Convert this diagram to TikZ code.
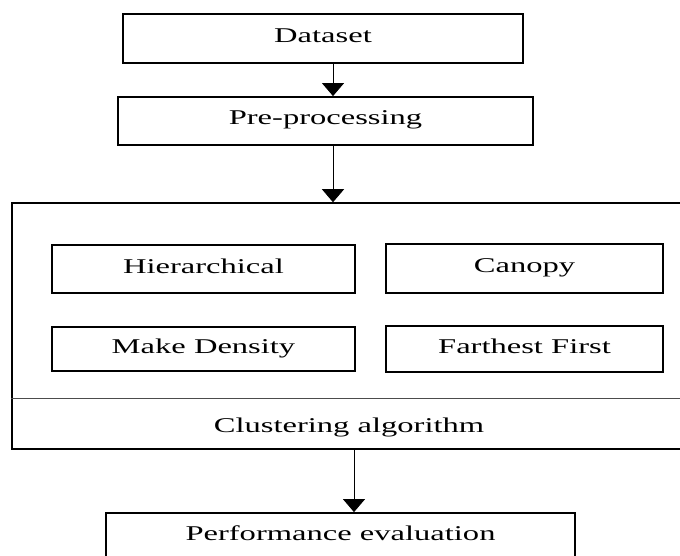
\documentclass[tikz,border=0pt]{standalone}
\usepackage{fontspec}
\setmainfont{Liberation Serif}
\usepackage{graphicx}
\usetikzlibrary{arrows.meta}

\newcommand{\wtxt}[1]{\scalebox{1.55}[1]{#1}}
\tikzset{
  blk/.style={draw, line width=1.8pt, inner sep=0pt, text height=14pt, text depth=6pt,
    font=\fontsize{21}{25}\selectfont},
  lbl/.style={inner sep=0pt, font=\fontsize{21}{25}\selectfont},
  flow/.style={-{Triangle[width=22pt,length=13pt]}, line width=0.9pt},
  sep/.style={line width=1pt, black!70},
}

\begin{document}
\begin{tikzpicture}[x=1pt,y=-1pt]
    \useasboundingbox (0,0) rectangle (680,556);
    \clip (0,0) rectangle (680,556);

    \node[blk, minimum width=400pt, minimum height=49pt] at (323,38.5) (DS) {\wtxt{Dataset}};
    \node[blk, minimum width=415pt, minimum height=48pt] at (325.5,121) (PP) {\wtxt{Pre-processing}};
    \node[draw, line width=1.5pt, minimum width=688pt, minimum height=246pt] at (356,326) (CL) {};
    \node[blk, minimum width=303pt, minimum height=48pt] at (203.5,269) (HC) {\wtxt{Hierarchical}};
    \node[blk, minimum width=277pt, minimum height=49pt] at (524.5,268.5) (CN) {\wtxt{Canopy}};
    \node[blk, minimum width=303pt, minimum height=44pt] at (203.5,349) (MD) {\wtxt{Make Density}};
    \node[blk, minimum width=277pt, minimum height=46pt] at (524.5,349) (FF) {\wtxt{Farthest First}};
    \node[lbl, anchor=base] at (349,432) (CA) {\wtxt{Clustering algorithm}};
    \node[blk, minimum width=469pt, minimum height=46pt] at (340.5,536) (PE) {\wtxt{Performance evaluation}};

    \coordinate (div) at (0,398);
    \coordinate (up) at (333,0);
    \coordinate (low) at (354,0);
    \draw[sep] (CL.west |- div) -- (CL.east |- div);
    \draw[flow] (DS.south -| up) -- (PP.north -| up);
    \draw[flow] (PP.south -| up) -- (CL.north -| up);
    \draw[flow] (CL.south -| low) -- (PE.north -| low);
\end{tikzpicture}
\end{document}
